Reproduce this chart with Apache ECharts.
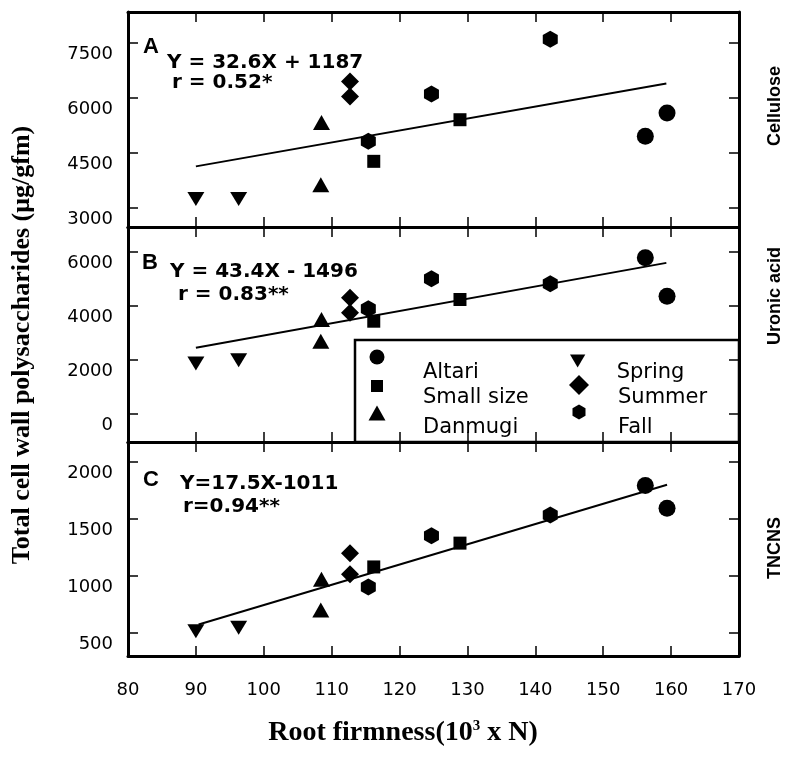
<!DOCTYPE html>
<html><head><meta charset="utf-8">
<script src="https://cdn.jsdelivr.net/npm/echarts@6/dist/echarts.min.js"></script>
<style>html,body{margin:0;padding:0;background:#fff}#c{width:790px;height:758px}</style>
</head><body><div id="c"></div>
<script>
const groups = ['Altari', 'Small size', 'Danmugi', 'Spring', 'Summer', 'Fall'];
const xTickLabels = [80, 90, 100, 110, 120, 130, 140, 150, 160, 170];
// root firmness of each sample (10^3 x N)
const firmAltari = [156.2, 159.4];
const firmSmall = [116.2, 128.9];
const firmDanmugi = [108.5, 108.4];
const firmSpring = [90.0, 96.3];
const firmSummer = [112.7, 112.7];
const firmFall = [115.4, 124.7, 142.2];
// A: cellulose
const celAltari = [4955, 5591];
const celSmall = [4273, 5409];
const celDanmugi = [5336, 3636];
const celSpring = [3245, 3245];
const celSummer = [6455, 6045];
const celFall = [4818, 6109, 7609];
// B: uronic acid
const uroAltari = [5790, 4366];
const uroSmall = [3438, 4243];
const uroDanmugi = [3500, 2696];
const uroSpring = [1866, 1990];
const uroSummer = [4304, 3748];
const uroFall = [3896, 5010, 4824];
// C: TNCNS
const tncAltari = [1794, 1594];
const tncSmall = [1079, 1288];
const tncDanmugi = [971, 700];
const tncSpring = [515, 544];
const tncSummer = [1200, 1015];
const tncFall = [903, 1353, 1535];
// regression line end points
const fitCel = [[90, 4135], [159.3, 6400]];
const fitUro = [[90, 2450], [159.3, 5600]];
const fitTnc = [[90.4, 574], [159.4, 1800]];
// axes
const yTicksCel = [3000, 4500, 6000, 7500];
const yTicksUro = [0, 2000, 4000, 6000];
const yTicksTnc = [500, 1000, 1500, 2000];
const yRangeCel = [2480, 8350];
const yRangeUro = [-1040, 6930];
const yRangeTnc = [297, 2176];
const equations = ['Y = 32.6X + 1187', 'Y = 43.4X - 1496', 'Y=17.5X-1011'];
const rValues = ['r = 0.52*', 'r = 0.83**', 'r=0.94**'];
const panelLetters = ['A', 'B', 'C'];
const panelNames = ['Cellulose', 'Uronic acid', 'TNCNS'];

const HEX = 'path://M0,-10 L8.66,-5 L8.66,5 L0,10 L-8.66,5 L-8.66,-5 Z';
const DOWN = 'path://M0,0 L20,0 L10,17 Z';
const symbols = ['circle', 'rect', 'triangle', DOWN, 'diamond', HEX];
const symSizes = [17, 13, [17, 15], [17, 14], [18, 18], [15, 17]];

const firm = [firmAltari, firmSmall, firmDanmugi, firmSpring, firmSummer, firmFall];
const panels = [
  [celAltari, celSmall, celDanmugi, celSpring, celSummer, celFall],
  [uroAltari, uroSmall, uroDanmugi, uroSpring, uroSummer, uroFall],
  [tncAltari, tncSmall, tncDanmugi, tncSpring, tncSummer, tncFall]
];
const fits = [fitCel, fitUro, fitTnc];
const yTicks = [yTicksCel, yTicksUro, yTicksTnc];
const yRanges = [yRangeCel, yRangeUro, yRangeTnc];

const L = 128, W = 611;
const grids = [
  { left: L, width: W, top: 12, height: 215 },
  { left: L, width: W, top: 227, height: 215 },
  { left: L, width: W, top: 442, height: 214 }
];
const lineSty = { color: '#000', width: 3 };
const tickSty = { color: '#000', width: 1.5 };

const xAxes = [], yAxes = [], series = [];
for (let p = 0; p < 3; p++) {
  ['bottom', 'top'].forEach(pos => {
    xAxes.push({
      gridIndex: p, type: 'value', position: pos, min: xTickLabels[0], max: xTickLabels[xTickLabels.length - 1], interval: 10,
      z: 7,
      axisLine: { show: true, onZero: false, lineStyle: lineSty },
      axisTick: { show: true, inside: true, length: 10, lineStyle: tickSty },
      axisLabel: { show: p === 2 && pos === 'bottom', margin: 25, color: '#000', fontSize: 18, fontFamily: 'DejaVu Sans' },
      splitLine: { show: false }
    });
  });
  ['left', 'right'].forEach(pos => {
    yAxes.push({
      gridIndex: p, type: 'value', position: pos, min: yRanges[p][0], max: yRanges[p][1],
      z: 7,
      axisLine: { show: true, onZero: false, lineStyle: lineSty },
      axisTick: { show: true, inside: true, length: 10, lineStyle: tickSty, customValues: yTicks[p] },
      axisLabel: { show: pos === 'left', customValues: yTicks[p], margin: 15, color: '#000', fontSize: 18, fontFamily: 'DejaVu Sans',
        verticalAlign: 'top', lineHeight: 22, formatter: v => String(v) },
      splitLine: { show: false }
    });
  });
  series.push({
    type: 'line', xAxisIndex: p * 2, yAxisIndex: p * 2, data: fits[p], symbol: 'none', silent: true, z: 1,
    lineStyle: { color: '#000', width: 2 }
  });
  groups.forEach((g, i) => {
    series.push({
      type: 'scatter', name: g, xAxisIndex: p * 2, yAxisIndex: p * 2,
      data: firm[i].map((x, k) => [x, panels[p][i][k]]),
      symbol: symbols[i], symbolSize: symSizes[i], z: 3,
      itemStyle: { color: '#000', opacity: 1 }
    });
  });
}

// legend: one small legend per entry (icon above-left of its text)
const legIcon = [
  { c: [377, 357], s: [15, 15], off: 16, tx: 423 },
  { c: [377, 386], s: [12, 12], off: 12, tx: 423 },
  { c: [377, 413], s: [17, 15], off: 15, tx: 423 },
  { c: [579, 361], s: [18, 13], off: 12, tx: 618 },
  { c: [579, 385], s: [20, 20], off: 13, tx: 618 },
  { c: [579, 412], s: [13, 16], off: 16, tx: 618 }
];
const legends = groups.map((g, i) => {
  const o = legIcon[i];
  const LH = o.off * 2;
  const iconLeft = o.c[0] - o.s[0] / 2;
  const iconTop = o.c[1] - o.s[1] / 2;
  const top = Math.min(iconTop, o.c[1] - LH);
  return {
    data: [{ name: g, icon: symbols[i] }],
    left: iconLeft, top: top, padding: 0, z: 5,
    itemWidth: o.s[0], itemHeight: o.s[1], selectedMode: false,
    itemStyle: { color: '#000' },
    formatter: '\n{name}',
    textStyle: { fontFamily: 'DejaVu Sans', fontSize: 21, color: '#000', lineHeight: LH,
      padding: [0, 0, 0, o.tx - (iconLeft + o.s[0] + 5)] }
  };
});

const txt = (x, y, text, font) => ({
  type: 'text', x: x, y: y, z: 20,
  style: { text: text, font: font, fill: '#000', textAlign: 'left', textVerticalAlign: 'middle' }
});

const graphics = [
  { type: 'rect', z: 3, shape: { x: 355, y: 340, width: 384, height: 102 }, style: { fill: '#fff', stroke: '#000', lineWidth: 2.5 } },
  { type: 'rect', z: 6, shape: { x: 357, y: 443.5, width: 380, height: 9 }, style: { fill: '#fff' } }
];
const letterPos = [[143, 47], [142, 263], [143, 480]];
const eqPos = [[167, 63], [170, 272], [180, 484]];
const rPos = [[172, 83], [178, 295], [183, 507]];
const namePos = [106, 296, 548];
for (let p = 0; p < 3; p++) {
  graphics.push(txt(letterPos[p][0], letterPos[p][1], panelLetters[p], 'bold 22px "Liberation Sans"'));
  graphics.push(txt(eqPos[p][0], eqPos[p][1], equations[p], 'bold 20px "DejaVu Sans"'));
  graphics.push(txt(rPos[p][0], rPos[p][1], rValues[p], 'bold 20px "DejaVu Sans"'));
  graphics.push({
    type: 'text', x: 775, y: namePos[p], rotation: Math.PI / 2, z: 20,
    style: { text: panelNames[p], font: 'bold 18px "Liberation Sans"', fill: '#000', textAlign: 'center', textVerticalAlign: 'middle' }
  });
}
graphics.push({
  type: 'text', x: 22, y: 345, rotation: Math.PI / 2, z: 20,
  style: { text: 'Total cell wall polysaccharides (μg/gfm)', font: 'bold 26px "Liberation Serif"', fill: '#000', textAlign: 'center', textVerticalAlign: 'middle' }
});
graphics.push({
  type: 'text', x: 403, y: 733, z: 20,
  style: {
    text: 'Root firmness(10{sup|3} x N)', font: 'bold 28px "Liberation Serif"', fill: '#000', textAlign: 'center', textVerticalAlign: 'middle',
    rich: { sup: { fontFamily: 'Liberation Serif', fontWeight: 'bold', fontSize: 15, verticalAlign: 'top', padding: [0, 0, 14, 0] } }
  }
});

const chart = echarts.init(document.getElementById('c'), null, { renderer: 'canvas' });
chart.setOption({
  backgroundColor: '#fff',
  animation: false,
  grid: grids,
  xAxis: xAxes,
  yAxis: yAxes,
  legend: legends,
  series: series,
  graphic: { elements: graphics }
});
</script>
</body></html>
